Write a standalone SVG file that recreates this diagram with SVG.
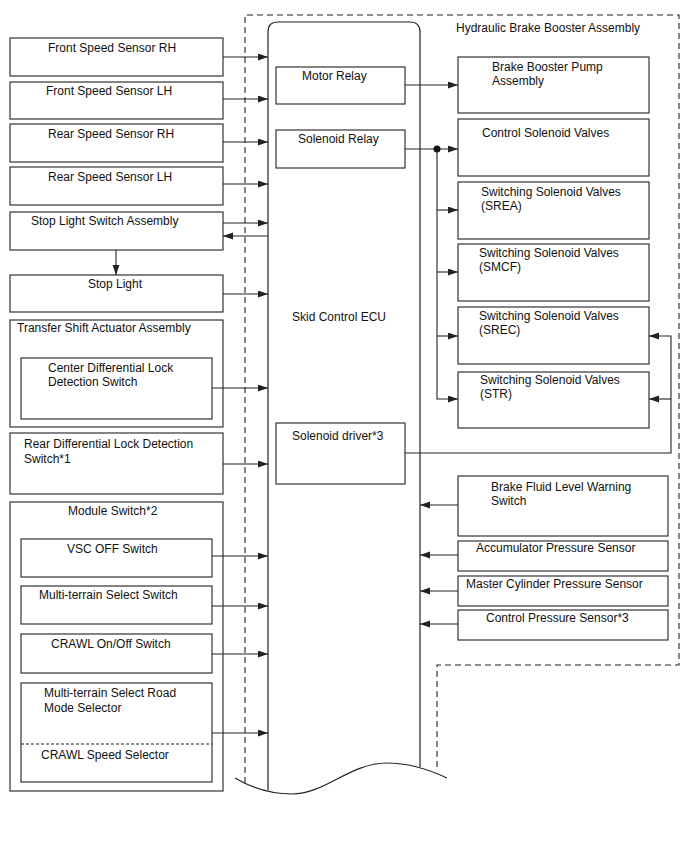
<svg xmlns="http://www.w3.org/2000/svg" width="688" height="852" viewBox="0 0 688 852">
<style>
.bx{fill:#fff;stroke:#333;stroke-width:1.2}
.ln{fill:none;stroke:#222;stroke-width:1.2}
.ar{fill:none;stroke:#222;stroke-width:1.1;marker-end:url(#ah)}
.ds{fill:none;stroke:#222;stroke-width:1.1;stroke-dasharray:6,4}
text{font-family:"Liberation Sans",Arial,sans-serif;font-size:12px;fill:#111}
</style>
<defs>
<marker id="ah" markerUnits="userSpaceOnUse" markerWidth="11" markerHeight="8" refX="10" refY="3.5" orient="auto">
<path d="M0,0 L10,3.5 L0,7 z" fill="#222"/>
</marker>
</defs>
<rect width="688" height="852" fill="#fff"/>
<g id="hydraulic-brake-booster-assembly">
<path class="ds" d="M245,783 V15 H679 V665 H437 V768"/>
<text x="456" y="32">Hydraulic Brake Booster Assembly</text>
</g>
<g id="skid-control-ecu">
<path class="ln" d="M268,790 V32 Q268,22 278,22 H410 Q420,22 420,32 V767"/>
<path class="ln" d="M235,778 C255,790 275,794 292,794 C325,794 350,763 387,763 C410,763 430,770 447,778"/>
<text x="292" y="321">Skid Control ECU</text>
</g>
<g id="motor-relay"><rect class="bx" x="276" y="67" width="129" height="37"/><text x="302" y="80">Motor Relay</text></g>
<g id="solenoid-relay"><rect class="bx" x="276" y="130" width="129" height="38"/><text x="298" y="143">Solenoid Relay</text></g>
<g id="solenoid-driver"><rect class="bx" x="276" y="423" width="129" height="61"/><text x="292" y="440">Solenoid driver*3</text></g>

<g id="front-speed-sensor-rh"><rect class="bx" x="10" y="38" width="213" height="38"/><text x="48" y="52">Front Speed Sensor RH</text></g>
<g id="front-speed-sensor-lh"><rect class="bx" x="10" y="82" width="213" height="37"/><text x="46" y="95">Front Speed Sensor LH</text></g>
<g id="rear-speed-sensor-rh"><rect class="bx" x="10" y="124" width="213" height="38"/><text x="48" y="138">Rear Speed Sensor RH</text></g>
<g id="rear-speed-sensor-lh"><rect class="bx" x="10" y="167" width="213" height="38"/><text x="48" y="181">Rear Speed Sensor LH</text></g>
<g id="stop-light-switch-assembly"><rect class="bx" x="10" y="212" width="213" height="38"/><text x="31" y="225">Stop Light Switch Assembly</text></g>
<g id="stop-light"><rect class="bx" x="10" y="275" width="213" height="37"/><text x="88" y="288">Stop Light</text></g>
<g id="transfer-shift-actuator-assembly"><rect class="bx" x="10" y="320" width="213" height="107"/><text x="17" y="332">Transfer Shift Actuator Assembly</text></g>
<g id="center-differential-lock-detection-switch"><rect class="bx" x="21" y="358" width="191" height="61"/><text x="48" y="372">Center Differential Lock</text><text x="48" y="386">Detection Switch</text></g>
<g id="rear-differential-lock-detection-switch"><rect class="bx" x="10" y="433" width="213" height="61"/><text x="24" y="448">Rear Differential Lock Detection</text><text x="24" y="463">Switch*1</text></g>
<g id="module-switch"><rect class="bx" x="10" y="502" width="213" height="289"/><text x="68" y="515">Module Switch*2</text></g>
<g id="vsc-off-switch"><rect class="bx" x="21" y="539" width="191" height="38"/><text x="67" y="553">VSC OFF Switch</text></g>
<g id="multi-terrain-select-switch"><rect class="bx" x="21" y="586" width="191" height="38"/><text x="39" y="599">Multi-terrain Select Switch</text></g>
<g id="crawl-on-off-switch"><rect class="bx" x="21" y="634" width="191" height="39"/><text x="51" y="648">CRAWL On/Off Switch</text></g>
<g id="multi-terrain-select-road-mode-selector"><rect class="bx" x="21" y="683" width="191" height="99"/><line class="ln" x1="21" y1="744" x2="212" y2="744" stroke-dasharray="3,2"/><text x="44" y="697">Multi-terrain Select Road</text><text x="44" y="712">Mode Selector</text><text x="41" y="759">CRAWL Speed Selector</text></g>

<g id="brake-booster-pump-assembly"><rect class="bx" x="458" y="57" width="191" height="56"/><text x="492" y="71">Brake Booster Pump</text><text x="492" y="85">Assembly</text></g>
<g id="control-solenoid-valves"><rect class="bx" x="458" y="119" width="191" height="57"/><text x="482" y="137">Control Solenoid Valves</text></g>
<g id="switching-solenoid-valves-srea"><rect class="bx" x="458" y="182" width="191" height="57"/><text x="481" y="196">Switching Solenoid Valves</text><text x="481" y="210">(SREA)</text></g>
<g id="switching-solenoid-valves-smcf"><rect class="bx" x="458" y="244" width="191" height="57"/><text x="479" y="257">Switching Solenoid Valves</text><text x="479" y="271">(SMCF)</text></g>
<g id="switching-solenoid-valves-srec"><rect class="bx" x="458" y="307" width="191" height="57"/><text x="479" y="320">Switching Solenoid Valves</text><text x="479" y="334">(SREC)</text></g>
<g id="switching-solenoid-valves-str"><rect class="bx" x="458" y="372" width="191" height="56"/><text x="480" y="384">Switching Solenoid Valves</text><text x="480" y="398">(STR)</text></g>
<g id="brake-fluid-level-warning-switch"><rect class="bx" x="458" y="476" width="210" height="60"/><text x="491" y="491">Brake Fluid Level Warning</text><text x="491" y="505">Switch</text></g>
<g id="accumulator-pressure-sensor"><rect class="bx" x="458" y="541" width="210" height="30"/><text x="476" y="552">Accumulator Pressure Sensor</text></g>
<g id="master-cylinder-pressure-sensor"><rect class="bx" x="458" y="576" width="210" height="30"/><text x="466" y="588">Master Cylinder Pressure Sensor</text></g>
<g id="control-pressure-sensor"><rect class="bx" x="458" y="610" width="210" height="30"/><text x="486" y="622">Control Pressure Sensor*3</text></g>

<g id="connectors">
<path class="ar" d="M223,57 H268"/>
<path class="ar" d="M223,99 H268"/>
<path class="ar" d="M223,142 H268"/>
<path class="ar" d="M223,184 H268"/>
<path class="ar" d="M223,223 H268"/>
<path class="ar" d="M268,236 H223"/>
<path class="ar" d="M116,250 V275"/>
<path class="ar" d="M223,294 H268"/>
<path class="ar" d="M212,388 H268"/>
<path class="ar" d="M223,464 H268"/>
<path class="ar" d="M212,556 H268"/>
<path class="ar" d="M212,606 H268"/>
<path class="ar" d="M212,654 H268"/>
<path class="ar" d="M212,733 H268"/>
<path class="ar" d="M405,85 H458"/>
<path class="ar" d="M405,149 H458"/>
<circle cx="437" cy="149" r="3.5" fill="#111"/>
<path class="ar" d="M437,149 V399 H458"/>
<path class="ar" d="M437,210 H458"/>
<path class="ar" d="M437,272 H458"/>
<path class="ar" d="M437,336 H458"/>
<path class="ar" d="M405,453 H671 V336 H649"/>
<path class="ar" d="M671,399 H649"/>
<path class="ar" d="M458,505 H420"/>
<path class="ar" d="M458,555 H420"/>
<path class="ar" d="M458,591 H420"/>
<path class="ar" d="M458,624 H420"/>
</g>
</svg>
